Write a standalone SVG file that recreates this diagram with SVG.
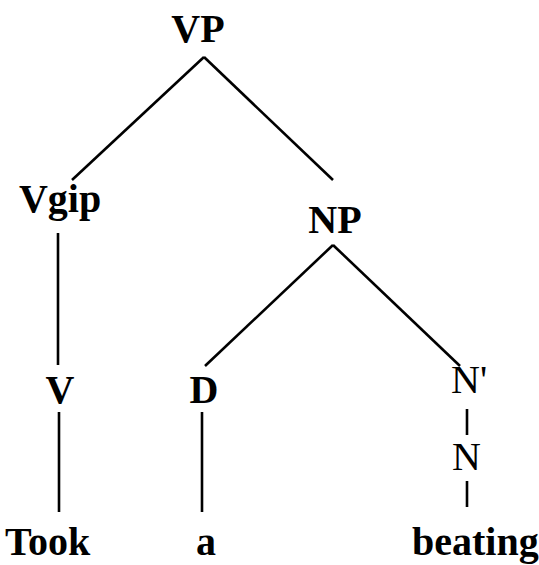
<svg xmlns="http://www.w3.org/2000/svg" width="539" height="565" viewBox="0 0 539 565">
  <style>
    .lbl { font-family: "Liberation Serif", "Times New Roman", serif; font-size: 40px; font-weight: bold; fill: #000; }
    .thin { font-weight: normal; }
    .edge { stroke: #000; stroke-width: 2.6; fill: none; stroke-linecap: butt; }
  </style>
  <rect width="539" height="565" fill="#fff"/>

  <!-- tree branches -->
  <g id="connectors">
    <line class="edge" x1="204" y1="57" x2="72" y2="180"/>
    <line class="edge" x1="204" y1="57" x2="333" y2="180"/>
    <line class="edge" x1="58" y1="233" x2="58" y2="365"/>
    <line class="edge" x1="333" y1="245" x2="205" y2="366"/>
    <line class="edge" x1="333" y1="245" x2="460" y2="366"/>
    <line class="edge" x1="59" y1="412" x2="59" y2="512"/>
    <line class="edge" x1="202" y1="412" x2="202" y2="512"/>
    <line class="edge" x1="467" y1="409" x2="467" y2="435"/>
    <line class="edge" x1="467" y1="481" x2="467" y2="507"/>
  </g>

  <g id="node-vp"><text class="lbl" x="198" y="42" text-anchor="middle">VP</text></g>
  <g id="node-vgip"><text class="lbl" x="60" y="212" text-anchor="middle">Vgip</text></g>
  <g id="node-np"><text class="lbl" x="335" y="233" text-anchor="middle">NP</text></g>
  <g id="node-v"><text class="lbl" x="60" y="403" text-anchor="middle">V</text></g>
  <g id="node-d"><text class="lbl" x="204" y="403" text-anchor="middle">D</text></g>
  <g id="node-nbar"><text class="lbl thin" x="451" y="393">N'</text></g>
  <g id="node-n"><text class="lbl thin" x="452" y="470">N</text></g>
  <g id="word-took"><text class="lbl" x="5" y="555">Took</text></g>
  <g id="word-a"><text class="lbl" x="196" y="555">a</text></g>
  <g id="word-beating"><text class="lbl" x="412" y="555">beating</text></g>
</svg>
